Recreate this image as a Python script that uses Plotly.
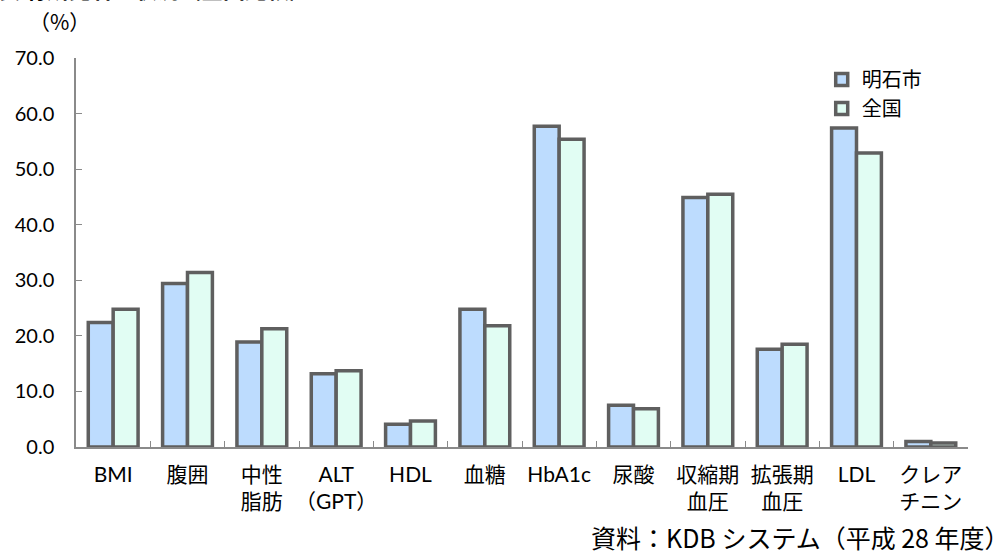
import plotly.graph_objects as go

categories = ["BMI", "腹囲", "中性<br>脂肪", "ALT<br>（GPT）", "HDL", "血糖", "HbA1c",
              "尿酸", "収縮期<br>血圧", "拡張期<br>血圧", "LDL", "クレア<br>チニン"]
akashi = [22.4, 29.4, 18.9, 13.2, 4.1, 24.8, 57.7, 7.5, 44.9, 17.6, 57.4, 1.0]
zenkoku = [24.8, 31.4, 21.3, 13.7, 4.7, 21.8, 55.4, 6.9, 45.5, 18.5, 52.9, 0.7]
series_names = ["明石市", "全国"]
y_ticks = [0, 10, 20, 30, 40, 50, 60, 70]

FONT = "Lato, 'Noto Sans CJK JP', sans-serif"
JP = "'Noto Sans CJK JP', sans-serif"
EDGE = "#5f5f5f"

fig = go.Figure()
fig.add_trace(go.Bar(x=categories, y=akashi, name=series_names[0],
                     marker=dict(color="#BDDCFE", line=dict(color=EDGE, width=3.5))))
fig.add_trace(go.Bar(x=categories, y=zenkoku, name=series_names[1],
                     marker=dict(color="#E1FDF3", line=dict(color=EDGE, width=3.5))))

fig.update_layout(
    width=1008, height=554,
    margin=dict(l=76, r=40, t=58, b=107),
    paper_bgcolor="white", plot_bgcolor="white",
    barmode="group", bargap=0.33, bargroupgap=0,
    font=dict(family=FONT, size=20, color="#000000"),
    showlegend=True,
    legend=dict(x=0.836, y=0.995, xanchor="left", yanchor="top",
                font=dict(family=JP, size=20, color="#000"),
                bgcolor="rgba(0,0,0,0)", tracegroupgap=0, itemwidth=30),
    xaxis=dict(showline=True, linecolor="#8a8a8a", linewidth=1.5,
               ticks="inside", tickson="boundaries", ticklen=6, tickcolor="#8a8a8a",
               tickwidth=1.3, tickangle=0,
               tickfont=dict(family=FONT, size=21, color="#000"),
               ticklabelstandoff=8, showgrid=False, zeroline=False),
    yaxis=dict(range=[0, 70], tickvals=y_ticks, tickformat=".1f",
               showline=True, linecolor="#8a8a8a", linewidth=1.5,
               ticks="inside", ticklen=6, tickcolor="#8a8a8a", tickwidth=1.3,
               tickfont=dict(family=FONT, size=20, color="#000"),
               ticklabelstandoff=16, showgrid=False, zeroline=False),
)

fig.add_annotation(text="（%）", xref="paper", yref="paper", x=-0.055, y=1.0,
                   yshift=20, xanchor="left", yanchor="bottom", showarrow=False,
                   font=dict(family=JP, size=21, color="#000"))
fig.add_annotation(text="資料：KDB システム（平成 28 年度）", xref="paper", yref="paper",
                   x=1.0, y=0, xanchor="right", yanchor="middle", xshift=44, yshift=-90,
                   showarrow=False, font=dict(family=JP, size=25, color="#000"))
fig.add_annotation(text="<b>表 有所見者の状況（全国比較）</b>", xref="paper", yref="paper",
                   x=0, y=1, xanchor="left", yanchor="bottom", xshift=-80, yshift=52,
                   showarrow=False, font=dict(family=JP, size=22, color="#000"))

fig.write_html("out.html")
